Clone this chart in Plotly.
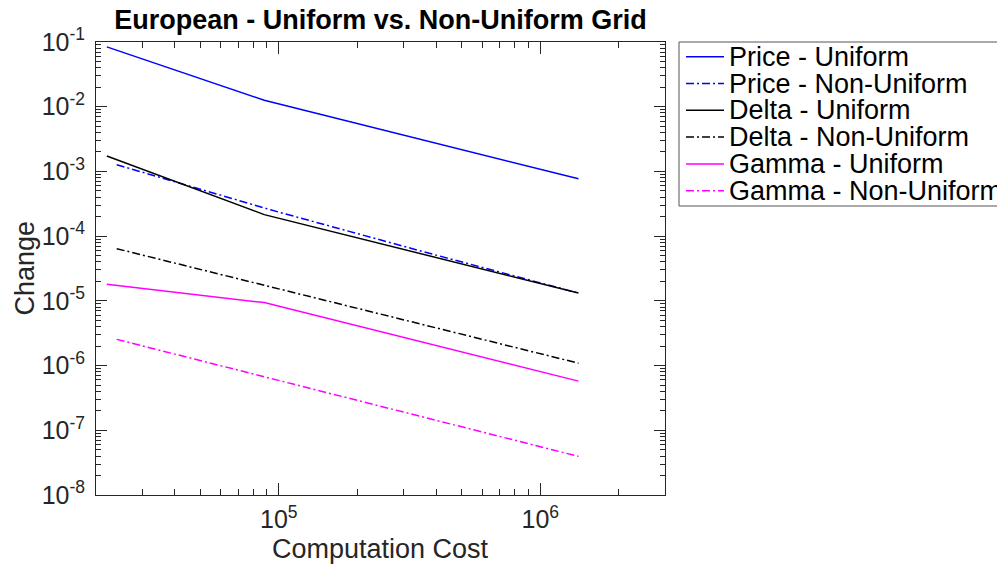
import numpy as np
import plotly.graph_objects as go

# values (log-log)
x_uniform = [2.2e4, 8.8e4, 1.4e6]
x_nonuniform = [2.4e4, 9.3e4, 3.6e5, 1.4e6]

price_uniform = [8.4e-2, 1.26e-2, 7.7e-4]
price_nonuniform = [1.27e-3, 2.55e-4, 5.7e-5, 1.32e-5]
delta_uniform = [1.73e-3, 2.15e-4, 1.32e-5]
delta_nonuniform = [6.4e-5, 1.64e-5, 4.2e-6, 1.09e-6]
gamma_uniform = [1.8e-5, 9.4e-6, 5.75e-7]
gamma_nonuniform = [2.54e-6, 6.4e-7, 1.6e-7, 3.95e-8]

series_names = ["Price - Uniform", "Price - Non-Uniform", "Delta - Uniform",
                "Delta - Non-Uniform", "Gamma - Uniform", "Gamma - Non-Uniform"]

x_ticks = [1e5, 1e6]
x_ticktext = ["10<sup>5</sup>", "10<sup>6</sup>"]
y_ticks = [10.0 ** k for k in range(-8, 0)]
y_ticktext = ["10<sup>%d</sup>" % k for k in range(-8, 0)]

DASHDOT = "8px,3px,2px,3px"
FONT = "Liberation Sans, Arial, sans-serif"
AXCOL = "#262626"

series = [
    (x_uniform, price_uniform, "#0000ff", "solid"),
    (x_nonuniform, price_nonuniform, "#0000ff", DASHDOT),
    (x_uniform, delta_uniform, "#000000", "solid"),
    (x_nonuniform, delta_nonuniform, "#000000", DASHDOT),
    (x_uniform, gamma_uniform, "#ff00ff", "solid"),
    (x_nonuniform, gamma_nonuniform, "#ff00ff", DASHDOT),
]

fig = go.Figure()
for name, (xs, ys, col, dash) in zip(series_names, series):
    fig.add_trace(go.Scatter(x=xs, y=ys, mode="lines", name=name,
                             line=dict(color=col, width=1.5, dash=dash),
                             showlegend=False))

# page has an 8px body margin, so the figure is 8px smaller and offset
OFF = 8
W, H = 1005 - OFF, 564 - OFF
# plot area in page pixels: x 96..665, y 42..495
L, R, T, B = 96, 665, 42, 495
def xp(px):
    return (px - L) / (R - L)
def yp(py):
    return (B - py) / (B - T)

# hand-made legend (MATLAB style, tight rows)
shapes = [dict(type="rect", xref="paper", yref="paper",
               x0=xp(679), x1=xp(1012), y0=yp(42), y1=yp(206),
               line=dict(color="#555555", width=1), fillcolor="white")]
annotations = []
row_y = 56.7
for name, (xs, ys, col, dash) in zip(series_names, series):
    shapes.append(dict(type="line", xref="paper", yref="paper",
                       x0=xp(686), x1=xp(724), y0=yp(row_y), y1=yp(row_y),
                       line=dict(color=col, width=1.5, dash=dash)))
    annotations.append(dict(text=name, xref="paper", yref="paper",
                            x=xp(727), y=yp(row_y), xanchor="left", yanchor="middle",
                            showarrow=False, font=dict(family=FONT, size=27, color="black")))
    row_y += 26.8

annotations.append(dict(text="Change", xref="paper", yref="paper", x=xp(24), y=0.5,
                        textangle=-90, xanchor="center", yanchor="middle", showarrow=False,
                        font=dict(family=FONT, size=27, color=AXCOL)))
annotations.append(dict(text="Computation Cost", xref="paper", yref="paper", x=0.5, y=yp(549),
                        xanchor="center", yanchor="middle", showarrow=False,
                        font=dict(family=FONT, size=27, color=AXCOL)))

x_minor = [k * 10.0 ** e for e in (4, 5, 6) for k in range(2, 10) if 2e4 < k * 10.0 ** e <= 3e6]
y_minor = [k * 10.0 ** e for e in range(-8, -1) for k in range(2, 10)]

fig.update_layout(
    width=W, height=H,
    margin=dict(l=L - OFF, r=W - (R - OFF), t=T - OFF, b=H - (B - OFF)),
    paper_bgcolor="white", plot_bgcolor="white",
    font=dict(family=FONT, color=AXCOL),
    title=dict(text="European - Uniform vs. Non-Uniform Grid", x=0.5, xref="paper",
               y=1 - (20 - OFF) / H, yanchor="middle",
               font=dict(family=FONT, size=27, color="black", weight="bold")),
    shapes=shapes, annotations=annotations,
)
fig.update_xaxes(type="log", range=[np.log10(2e4), np.log10(3e6)],
                 tickmode="array", tickvals=x_ticks, ticktext=x_ticktext,
                 ticks="inside", ticklen=12, tickcolor=AXCOL, tickwidth=1,
                 minor=dict(tickmode="array", tickvals=x_minor, ticks="inside",
                            ticklen=6, tickcolor=AXCOL, showgrid=False),
                 showline=True, linecolor=AXCOL, linewidth=1, mirror="allticks",
                 showgrid=False, zeroline=False, ticklabelstandoff=2,
                 tickfont=dict(family=FONT, size=25, color=AXCOL))
fig.update_yaxes(type="log", range=[-8, -1],
                 tickmode="array", tickvals=y_ticks, ticktext=y_ticktext,
                 ticks="inside", ticklen=11, tickcolor=AXCOL, tickwidth=1,
                 minor=dict(tickmode="array", tickvals=y_minor, ticks="inside",
                            ticklen=5, tickcolor=AXCOL, showgrid=False),
                 showline=True, linecolor=AXCOL, linewidth=1, mirror="allticks",
                 showgrid=False, zeroline=False, ticklabelstandoff=5,
                 tickfont=dict(family=FONT, size=25, color=AXCOL))

fig.write_html("out.html")
